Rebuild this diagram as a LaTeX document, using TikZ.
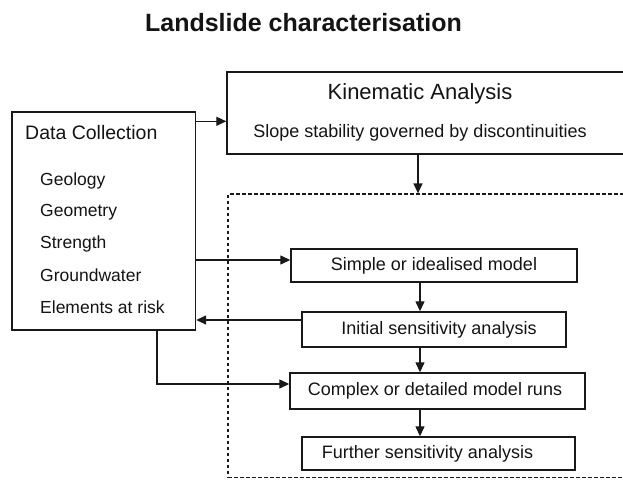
\documentclass[tikz,border=0pt]{standalone}
\usepackage{fontspec}
\setmainfont{Liberation Sans}
\usetikzlibrary{arrows.meta,calc}
\begin{document}
\begin{tikzpicture}[x=1pt,y=-1pt,
  ink/.style={draw=black!90, line width=1.4pt},
  box/.style={ink, rectangle, inner sep=0pt, font=\fontsize{18}{21}\selectfont, text=black!92},
  dbox/.style={draw=black!90, line width=1.3pt, dash pattern=on 3.5pt off 2.5pt, rectangle, inner sep=0pt},
  lbl/.style={inner sep=0pt, anchor=base, text=black!92},
  item/.style={inner sep=0pt, anchor=base west, font=\fontsize{17.5}{20}\selectfont, text=black!92},
  arr/.style={draw=black!90, line width=1.3pt, -{Triangle[length=10pt,width=9pt]}}
]
\useasboundingbox (0,0) rectangle (623,480);
\clip (0,0) rectangle (623,480);
\fill[white] (0,0) rectangle (623,480);

% title
\node[lbl, font=\fontsize{25}{30}\selectfont\bfseries] (title) at (303.5,31) {Landslide characterisation};

% kinematic box (runs past the right edge)
\node[box, minimum width=423pt, minimum height=82pt] (kin) at (438.5,113) {};
\node[lbl, font=\fontsize{22}{26}\selectfont] (kintitle) at (420,99) {Kinematic Analysis};
\node[lbl, font=\fontsize{18}{21}\selectfont] (kinsub) at (420,137.5) {Slope stability governed by discontinuities};

% data collection box
\node[box, minimum width=183.5pt, minimum height=218pt] (data) at (103.75,221) {};
\node[item, font=\fontsize{19.5}{23}\selectfont] (dctitle) at (25,139.5) {Data Collection};
\node[item] (geo) at (40,185.5) {Geology};
\node[item] (geom) at (40,216.5) {Geometry};
\node[item] (str) at (40,248.5) {Strength};
\node[item] (gw) at (40,281.5) {Groundwater};
\node[item] (ear) at (40,313.5) {Elements at risk};

% dashed modelling frame (runs past right and bottom edges)
\node[dbox, minimum width=422pt, minimum height=283.5pt] (model) at (439,335.75) {};

% model steps
\node[box, minimum width=286pt, minimum height=33pt] (simple) at (434,265.5) {Simple or idealised model};
\node[box, minimum width=264pt, minimum height=35pt] (initial) at (434,329.5) {\hspace*{10pt}Initial sensitivity analysis};
\node[box, minimum width=295pt, minimum height=36pt] (complex) at (437.5,391) {Complex or detailed model runs\hspace*{5pt}};
\node[box, minimum width=273pt, minimum height=33pt] (further) at (438.5,453.5) {Further sensitivity analysis\hspace*{22pt}};

% connectors
\draw[arr] ([yshift=-10pt]data.north east) coordinate (a1) -- (a1 -| kin.west);
\draw[arr] ([xshift=-20.5pt]kin.south) coordinate (a2) -- (a2 |- model.north);
\draw[arr] ([yshift=5.5pt]simple.west) coordinate (a3) (a3 -| data.east) -- (a3);
\draw[arr] ([xshift=-14pt]simple.south) coordinate (a4) -- (a4 |- initial.north);
\draw[arr] ([yshift=9.5pt]initial.west) coordinate (a5) -- (a5 -| data.east);
\draw[arr] ([xshift=-14pt]initial.south) coordinate (a6) -- (a6 |- complex.north);
\draw[arr] ([xshift=-17.5pt]complex.south) coordinate (a7) -- (a7 |- further.north);
\draw[arr] ([xshift=53.25pt]data.south) coordinate (a8) |- ([yshift=7pt]complex.west);
\end{tikzpicture}
\end{document}
